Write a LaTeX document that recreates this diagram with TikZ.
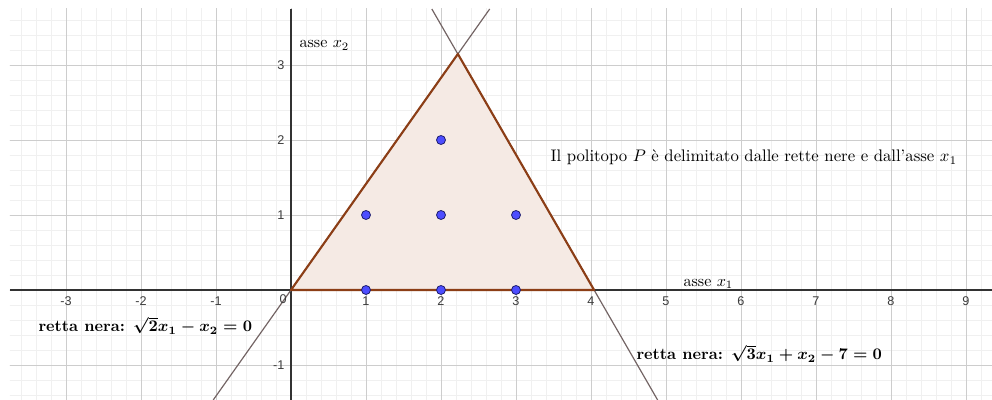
\documentclass[tikz,border=0pt]{standalone}
\usepackage{fontspec}
\newfontfamily\ticksans{Liberation Sans}
\usepackage{amsmath}
\usepackage{graphicx}
\definecolor{minorgrid}{RGB}{240,240,240}
\definecolor{majorgrid}{RGB}{205,205,205}
\definecolor{axiscol}{RGB}{50,50,50}
\definecolor{edgebrown}{RGB}{140,62,22}
\definecolor{fillbrown}{RGB}{245,234,228}
\definecolor{linegray}{RGB}{115,100,100}
\definecolor{ptblue}{RGB}{77,77,255}
\definecolor{ptedge}{RGB}{30,30,110}
\definecolor{ticklab}{RGB}{60,60,60}
\newcommand{\smalltxt}[1]{\scalebox{0.61}{#1}}
\newcommand{\desctxt}[1]{\scalebox{0.635}{#1}}
\newcommand{\boldtxt}[1]{\scalebox{0.612}{\bfseries\boldmath #1}}
\tikzset{
  ticklabel/.style={font=\ticksans\fontsize{4.8}{5}\selectfont, text=ticklab, inner sep=0pt},
  lbl/.style={inner sep=0pt, anchor=base west},
  latpt/.style={circle, fill=ptblue, draw=ptedge, line width=0.3pt, minimum size=0.12cm, inner sep=0pt},
  blackline/.style={draw=linegray, line width=0.45pt},
  polyedge/.style={draw=edgebrown, line width=0.8pt, line join=round}
}
\begin{document}
\begin{tikzpicture}[x=1cm,y=1cm]
\useasboundingbox (-3.88,-1.4667) rectangle (9.3467,3.8667);
\fill[white] (-3.88,-1.4667) rectangle (9.3467,3.8667);
\begin{scope}
\clip (-3.7467,-1.4667) rectangle (9.3467,3.7467);
\draw[minorgrid, line width=0.3pt, step=0.2] (-4,-2) grid (10,4);
\draw[majorgrid, line width=0.35pt, step=1] (-4,-2) grid (10,4);
% polytope
\coordinate (O) at (0,0);
\coordinate (A) at (4.0415,0);
\coordinate (T) at (2.2251,3.1468);
\fill[fillbrown] (O) -- (A) -- (T) -- cycle;
% axes
\draw[axiscol, line width=0.5pt] (-3.7467,0) -- (9.3467,0);
\draw[axiscol, line width=0.5pt] (0,-1.4667) -- (0,3.7467);
% black lines
\coordinate (L1a) at (-1.0372,-1.4667);
\coordinate (L1b) at (2.6494,3.7467);
\coordinate (L2a) at (1.8779,3.7467);
\coordinate (L2b) at (4.8884,-1.4667);
\draw[blackline] (L1a) -- (L1b);
\draw[blackline] (L2a) -- (L2b);
\draw[polyedge] (O) -- (A) -- (T) -- cycle;
\end{scope}
% tick labels
\foreach \x in {-3,-2,-1,1,2,3,4,5,6,7,8,9}
  \node[ticklabel, anchor=north] (tx\x) at (\x,-0.08) {\x};
\foreach \y in {-1,1,2,3}
  \node[ticklabel, anchor=east] (ty\y) at (-0.08,\y) {\y};
\node[ticklabel, anchor=north east] (t0) at (-0.05,-0.06) {0};
% lattice points
\foreach \px/\py in {1/0,2/0,3/0,1/1,2/1,3/1,2/2}
  \node[latpt] (p\px\py) at (\px,\py) {};
% labels
\node[lbl] (ax2) at (0.107,3.227) {\smalltxt{asse $x_2$}};
\node[lbl] (ax1) at (5.227,0.053) {\smalltxt{asse $x_1$}};
\node[lbl] (desc) at (3.453,1.707) {\desctxt{Il politopo $P$ è delimitato dalle rette nere e dall'asse $x_1$}};
\node[lbl] (r1) at (-3.373,-0.56) {\boldtxt{retta nera: $\sqrt{2}x_1-x_2=0$}};
\node[lbl] (r2) at (4.6,-0.933) {\boldtxt{retta nera: $\sqrt{3}x_1+x_2-7=0$}};
\end{tikzpicture}
\end{document}
